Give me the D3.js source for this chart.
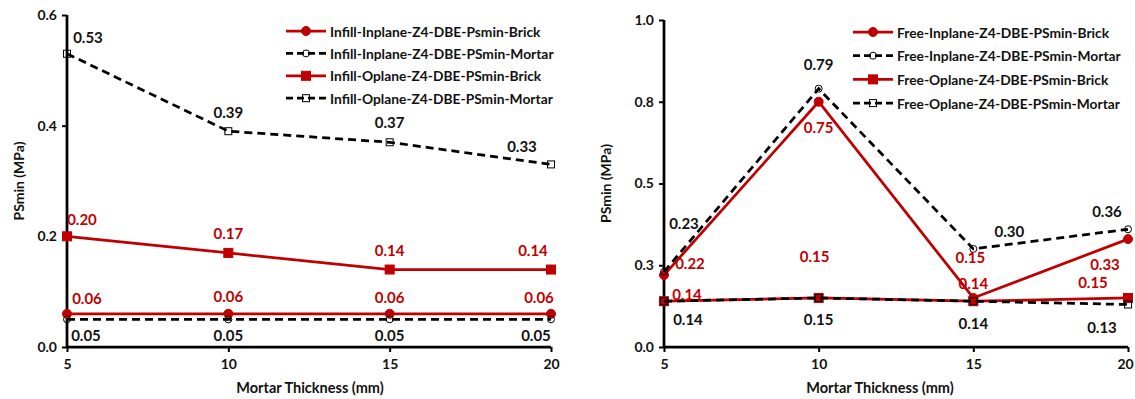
<!DOCTYPE html>
<html>
<head>
<meta charset="utf-8">
<script src="https://cdn.jsdelivr.net/npm/d3@7"></script>
<style>
  html, body { margin: 0; padding: 0; background: #fff; }
  svg { display: block; }
  text { font-family: Lato, "Open Sans", sans-serif; font-weight: bold; }
</style>
</head>
<body>
<svg id="chart" width="1135" height="399"></svg>
<script>
// ---- data ----
const thickness = [5, 10, 15, 20];

const infillNames = [
  "Infill-Inplane-Z4-DBE-Psmin-Brick",
  "Infill-Inplane-Z4-DBE-PSmin-Mortar",
  "Infill-Oplane-Z4-DBE-PSmin-Brick",
  "Infill-Oplane-Z4-DBE-PSmin-Mortar"
];
const infillInplaneBrick  = [0.06, 0.06, 0.06, 0.06];
const infillInplaneMortar = [0.05, 0.05, 0.05, 0.05];
const infillOplaneBrick   = [0.20, 0.17, 0.14, 0.14];
const infillOplaneMortar  = [0.53, 0.39, 0.37, 0.33];

const freeNames = [
  "Free-Inplane-Z4-DBE-PSmin-Brick",
  "Free-Inplane-Z4-DBE-PSmin-Mortar",
  "Free-Oplane-Z4-DBE-PSmin-Brick",
  "Free-Oplane-Z4-DBE-PSmin-Mortar"
];
const freeInplaneBrick  = [0.22, 0.75, 0.15, 0.33];
const freeInplaneMortar = [0.23, 0.79, 0.30, 0.36];
const freeOplaneBrick   = [0.14, 0.15, 0.14, 0.15];
const freeOplaneMortar  = [0.14, 0.15, 0.14, 0.13];

const infillYTicks = [0, 0.2, 0.4, 0.6];
const infillYTickLabels = ["0.0", "0.2", "0.4", "0.6"];
const freeYTicks = [0, 0.25, 0.5, 0.75, 1.0];
const freeYTickLabels = ["0.0", "0.3", "0.5", "0.8", "1.0"];
const xTickLabels = ["5", "10", "15", "20"];

const yTitle = "PSmin (MPa)";
const xTitle = "Mortar Thickness (mm)";

// ---- styling ----
const RED = "#C00000";
const BLACK = "#000000";
const TEXT = "#111111";
const seriesStyle = [
  { color: RED,   dash: null,  marker: "circle", filled: true },
  { color: BLACK, dash: "8,5", marker: "circle", filled: false },
  { color: RED,   dash: null,  marker: "square", filled: true },
  { color: BLACK, dash: "8,5", marker: "square", filled: false }
];

// label offsets (dx, dy) relative to each point, per series
const infillLabelOffsets = [
  [[20, -16], [0, -18], [0, -17], [-12, -17]],
  [[19, 16], [0, 16], [0, 16], [-15, 16]],
  [[15, -17], [0, -20], [0, -20], [-18, -20]],
  [[21, -17], [0, -19], [0, -20], [-29, -18]]
];
const freeLabelOffsets = [
  [[26, -12], [0, 25], [-3, -41], [-23, 25]],
  [[20, -49], [0, -25], [36, -18], [-21, -18]],
  [[23, -7], [-4, -42], [0, -18], [-35, -16]],
  [[24, 18], [0, 21], [0, 22], [-26, 23]]
];

const svg = d3.select("#chart");

function drawPanel(opts) {
  const g = svg.append("g");
  const x = d3.scaleLinear().domain([5, 20]).range([opts.x0, opts.x1]);
  const y = d3.scaleLinear().domain(opts.yDomain).range([opts.yBottom, opts.yTop]);

  // axes
  const yAxis = d3.axisLeft(y).tickValues(opts.yTicks)
    .tickFormat((d, i) => opts.yTickLabels[i]).tickSize(5).tickPadding(5);
  const xAxis = d3.axisBottom(x).tickValues(thickness)
    .tickFormat((d, i) => xTickLabels[i]).tickSize(5).tickPadding(7);

  const ya = g.append("g").attr("transform", `translate(${opts.x0},0)`).call(yAxis);
  const xa = g.append("g").attr("transform", `translate(0,${opts.yBottom})`).call(xAxis);
  [ya, xa].forEach(a => {
    a.select(".domain").attr("stroke", BLACK).attr("stroke-width", 2.75);
    a.selectAll(".tick line").attr("stroke", BLACK).attr("stroke-width", 2);
    a.selectAll(".tick text").attr("fill", TEXT).style("font-size", "14px")
      .style("font-family", "Lato, sans-serif").style("font-weight", "bold");
  });
  ya.select(".domain").attr("d", `M0,${opts.yTop}V${opts.yBottom}`);
  xa.select(".domain").attr("d", `M${opts.x0},0H${opts.x1}`);
  // keep the last x tick label inside the page edge
  if (opts.lastTickShift) {
    xa.selectAll(".tick text").filter((d, i, n) => i === n.length - 1)
      .attr("dx", -opts.lastTickShift);
  }

  // titles
  g.append("text")
    .attr("transform", `translate(${opts.yTitleX},${(opts.yTop + opts.yBottom) / 2}) rotate(-90)`)
    .attr("text-anchor", "middle").attr("dominant-baseline", "central")
    .style("font-size", "14px").attr("fill", TEXT).text(yTitle);
  g.append("text")
    .attr("x", opts.xTitleX).attr("y", 387)
    .attr("text-anchor", "middle").attr("dominant-baseline", "central")
    .style("font-size", "14.5px").attr("fill", TEXT).text(xTitle);

  const line = d3.line().x((d, i) => x(thickness[i])).y(d => y(d));

  opts.series.forEach((vals, si) => {
    const st = seriesStyle[si];
    const sg = g.append("g");
    sg.append("path").datum(vals).attr("d", line)
      .attr("fill", "none").attr("stroke", st.color).attr("stroke-width", 2.75)
      .attr("stroke-dasharray", st.dash);
    drawMarkers(sg, vals.map((v, i) => [x(thickness[i]), y(v)]), st);
  });

  // value labels
  opts.series.forEach((vals, si) => {
    const st = seriesStyle[si];
    g.append("g").selectAll("text").data(vals).join("text")
      .attr("x", (d, i) => x(thickness[i]) + opts.labelOffsets[si][i][0])
      .attr("y", (d, i) => y(d) + opts.labelOffsets[si][i][1])
      .attr("text-anchor", "middle").attr("dominant-baseline", "central")
      .style("font-size", "15px")
      .attr("fill", st.color === RED ? RED : TEXT)
      .text(d => d3.format(".2f")(d));
  });

  // legend
  const lg = g.append("g");
  opts.names.forEach((name, si) => {
    const st = seriesStyle[si];
    const ly = opts.legendY + si * opts.legendStep;
    lg.append("line").attr("x1", opts.legendX).attr("x2", opts.legendX + 40)
      .attr("y1", ly).attr("y2", ly)
      .attr("stroke", st.color).attr("stroke-width", 2.75)
      .attr("stroke-dasharray", st.dash ? "7,4" : null);
    drawMarkers(lg, [[opts.legendX + 20, ly]], st);
    lg.append("text").attr("x", opts.legendX + 44).attr("y", ly)
      .attr("dominant-baseline", "central")
      .style("font-size", "13.8px").attr("fill", TEXT).text(name);
  });
}

function drawMarkers(sel, pts, st) {
  if (st.marker === "circle") {
    sel.selectAll(null).data(pts).join("circle")
      .attr("cx", d => d[0]).attr("cy", d => d[1])
      .attr("r", st.filled ? 4.5 : 3.5)
      .attr("fill", st.filled ? st.color : "none")
      .attr("stroke", st.color).attr("stroke-width", 1);
  } else {
    const s = st.filled ? 9 : 7;
    sel.selectAll(null).data(pts).join("rect")
      .attr("x", d => d[0] - s / 2).attr("y", d => d[1] - s / 2)
      .attr("width", s).attr("height", s)
      .attr("fill", st.filled ? st.color : "none")
      .attr("stroke", st.color).attr("stroke-width", 1);
  }
}

drawPanel({
  x0: 67, x1: 551, yTop: 15, yBottom: 347, yDomain: [0, 0.6],
  yTicks: infillYTicks, yTickLabels: infillYTickLabels,
  yTitleX: 18, xTitleX: 310,
  series: [infillInplaneBrick, infillInplaneMortar, infillOplaneBrick, infillOplaneMortar],
  names: infillNames, labelOffsets: infillLabelOffsets,
  legendX: 286, legendY: 31, legendStep: 22.4
});

drawPanel({
  x0: 664, x1: 1128, yTop: 20, yBottom: 347, yDomain: [0, 1.0],
  yTicks: freeYTicks, yTickLabels: freeYTickLabels,
  yTitleX: 605, xTitleX: 880,
  series: [freeInplaneBrick, freeInplaneMortar, freeOplaneBrick, freeOplaneMortar],
  names: freeNames, labelOffsets: freeLabelOffsets,
  legendX: 853, legendY: 32, legendStep: 23.7,
  lastTickShift: 3
});
</script>
</body>
</html>
